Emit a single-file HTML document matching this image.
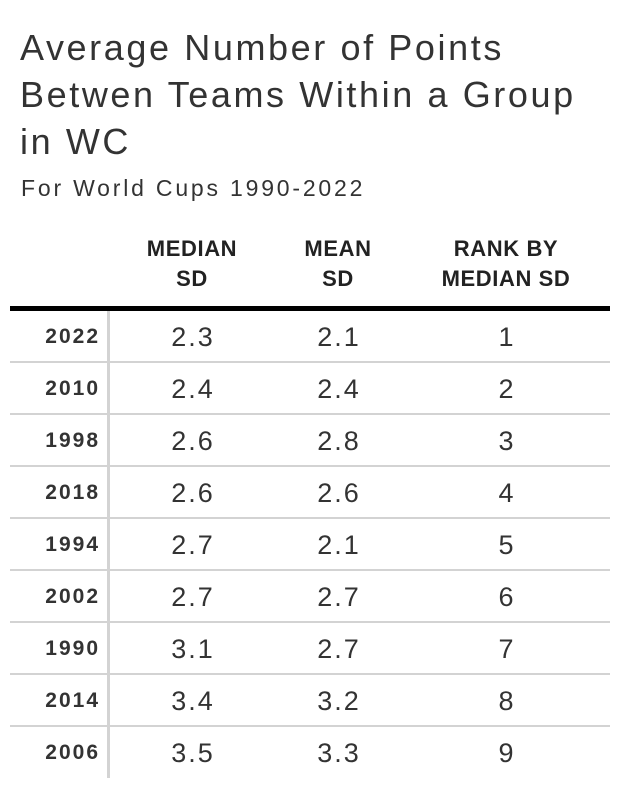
<!DOCTYPE html>
<html><head><meta charset="utf-8"><style>
body{margin:0;width:620px;height:790px;background:#fff;font-family:"Liberation Sans",sans-serif;color:#333;position:relative;overflow:hidden}
#title{position:absolute;left:20px;top:24px;font-size:36px;line-height:47px;color:#333;margin:0;font-weight:normal;letter-spacing:2.6px;white-space:nowrap}
#sub{position:absolute;left:21px;top:175px;font-size:23px;color:#333;letter-spacing:2.8px;white-space:nowrap}
.h{position:absolute;top:234px;font-weight:bold;font-size:22px;line-height:30px;text-align:center;color:#222;letter-spacing:0.6px;white-space:nowrap}
#rule{position:absolute;left:10px;top:306px;width:600px;height:5px;background:#000}
#vline{position:absolute;left:107px;top:311px;width:3px;height:467px;background:#d3d3d3}
.row{position:absolute;left:10px;width:600px;height:52px}
.row .sep{position:absolute;left:0;right:0;bottom:0;height:2px;background:#d3d3d3}
.yr{position:absolute;right:510px;top:0;line-height:52px;font-weight:bold;font-size:21px;color:#333;letter-spacing:2px}
.v{position:absolute;top:0;line-height:52px;font-size:27px;width:120px;text-align:center;color:#333;letter-spacing:2px}
</style></head><body>
<h1 id="title">Average Number of Points<br>Betwen Teams Within a Group<br>in WC</h1>
<div id="sub">For World Cups 1990-2022</div>
<div class="h" style="left:132px;width:120px">MEDIAN<br>SD</div>
<div class="h" style="left:278px;width:120px">MEAN<br>SD</div>
<div class="h" style="left:426px;width:160px">RANK BY<br>MEDIAN SD</div>
<div id="rule"></div>
<div id="rows"></div>
<div id="vline"></div>
<script>
const years=["2022","2010","1998","2018","1994","2002","1990","2014","2006"];
const medianSD=["2.3","2.4","2.6","2.6","2.7","2.7","3.1","3.4","3.5"];
const meanSD=["2.1","2.4","2.8","2.6","2.1","2.7","2.7","3.2","3.3"];
const ranks=["1","2","3","4","5","6","7","8","9"];
const body=document.getElementById('rows');
years.forEach((y,i)=>{
  const r=document.createElement('div');r.className='row';r.style.top=(311+i*52)+'px';
  
  
  const cells=[['yr',y,null,'year-cell'],['v',medianSD[i],123,'median-sd-cell'],['v',meanSD[i],269,'mean-sd-cell'],['v',ranks[i],437,'rank-cell']];
  cells.forEach(c=>{const d=document.createElement('div');d.className=c[0];d.textContent=c[1];if(c[2]!==null)d.style.left=c[2]+'px';
    
    
    r.appendChild(d);});
  if(i<years.length-1){const s=document.createElement('div');s.className='sep';
    
    
    r.appendChild(s);}
  body.appendChild(r);
});
</script>
</body></html>
